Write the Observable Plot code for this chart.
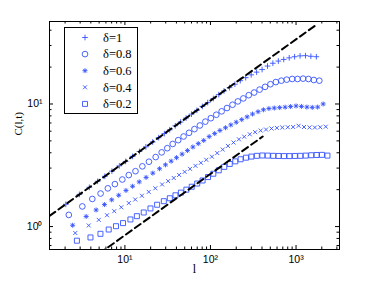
<!DOCTYPE html>
<html><head><meta charset="utf-8">
<script src="https://cdn.jsdelivr.net/npm/d3@7"></script>
<script src="https://cdn.jsdelivr.net/npm/@observablehq/plot@0.6"></script>
<style>
body{margin:0;background:#fff;}
#wrap{position:relative;width:374px;height:281px;}
</style></head><body><div id="wrap"></div>
<script>
// ---- data ----
const seriesLabels = ["δ=1","δ=0.8","δ=0.6","δ=0.4","δ=0.2"];

const l_d10 = [2.04,2.94,3.84,4.80,5.83,7.05,8.61,10.2,12.3,14.8,17.6,21.1,24.8,28.9,33.4,38.8,44.8,51.9,60.0,69.4,80.4,92.9,108,125,144,167,193,223,258,299,346,401,464,536,621,718,832,962,1115,1289,1490,1727];
const C_d10 = [1.52,1.83,2.09,2.34,2.57,2.83,3.13,3.40,3.74,4.10,4.47,4.90,5.31,5.73,6.16,6.64,7.13,7.68,8.26,8.88,9.56,10.27,11.08,11.92,12.79,13.6,14.5,15.5,16.4,17.3,18.2,19.1,20.4,21.5,22.4,23.1,23.8,24.3,24.7,24.8,24.5,24.3];

const l_d08 = [2.21,3.18,4.16,5.20,6.32,7.64,9.33,11.1,13.3,16.0,19.1,22.9,26.9,31.3,36.2,42.0,48.5,56.2,65.0,75.2,87.1,101,117,135,156,181,209,242,280,324,375,435,502,581,673,778,902,1042,1208,1396,1614,1871];
const C_d08 = [1.245,1.46,1.68,1.86,2.05,2.22,2.42,2.63,2.83,3.10,3.38,3.69,4.03,4.36,4.72,5.07,5.43,5.82,6.24,6.68,7.18,7.66,8.17,8.71,9.27,9.86,10.5,11.1,11.8,12.4,13.1,13.8,14.5,15.1,15.5,15.8,16.0,16.0,16.1,16.0,15.7,15.5];

const l_d06 = [2.45,3.53,4.61,5.77,7.01,8.47,10.3,12.3,14.7,17.7,21.2,25.4,29.8,34.7,40.1,46.6,53.8,62.3,72.1,83.4,96.6,112,129,150,173,200,232,268,310,360,416,482,557,644,746,863,1000,1156,1340,1548,1790,2075];
const C_d06 = [1.025,1.209,1.366,1.512,1.652,1.800,1.971,2.132,2.316,2.518,2.729,2.964,3.189,3.418,3.648,3.90,4.17,4.46,4.75,5.04,5.42,5.74,6.08,6.40,6.75,7.10,7.46,7.85,8.28,8.65,8.97,9.18,9.27,9.35,9.42,9.53,9.64,9.55,9.44,9.38,9.44,10.0];

const l_d04 = [2.63,3.78,4.95,6.18,7.51,9.08,11.1,13.2,15.8,19.0,22.7,27.2,32.0,37.2,43.0,49.9,57.7,66.8,77.3,89.4,104,120,139,160,186,215,248,288,333,386,446,517,597,691,800,925,1072,1239,1436,1660,1919,2225];
const C_d04 = [0.886,1.021,1.134,1.237,1.335,1.437,1.554,1.663,1.784,1.918,2.054,2.206,2.349,2.492,2.637,2.793,2.956,3.130,3.313,3.506,3.715,3.98,4.25,4.55,4.85,5.15,5.41,5.66,5.89,6.07,6.19,6.31,6.38,6.43,6.46,6.49,6.64,6.49,6.44,6.43,6.46,6.53];

const l_d02 = [2.75,3.96,5.18,6.47,7.87,9.51,11.6,13.8,16.6,19.9,23.8,28.5,33.5,39.0,45.1,52.3,60.4,70.0,80.9,93.6,108,125,145,168,195,225,260,301,348,404,467,541,625,723,838,969,1122,1297,1504,1738,2009,2329];
const C_d02 = [0.767,0.815,0.873,0.946,1.007,1.067,1.143,1.216,1.303,1.406,1.507,1.611,1.702,1.799,1.892,2.0,2.113,2.244,2.377,2.535,2.698,2.877,3.069,3.243,3.404,3.540,3.648,3.724,3.776,3.802,3.793,3.776,3.767,3.758,3.758,3.767,3.776,3.793,3.819,3.837,3.846,3.793];

// reference dashed lines (end points)
const refUpper_l = [1.315, 1667];
const refUpper_C = [1.222, 43.5];
const refLower_l = [5.0, 408];
const refLower_C = [0.601, 5.43];

// axis ticks
const xMajor = [10, 100, 1000];
const xMinor = [2,3,4,5,6,7,8,9,20,30,40,50,60,70,80,90,200,300,400,500,600,700,800,900,2000,3000];
const yMajor = [1, 10];
const yMinor = [0.7,0.8,0.9,2,3,4,5,6,7,8,9,20,30,40];

// ---- layout ----
const W = 374, H = 281, mL = 49, mR = 35, mT = 21, mB = 32;
const xDomain = [1.315, 3220], yDomain = [0.65, 47.1];
const fw = W - mL - mR, fh = H - mT - mB;
const kx = p => Math.pow(xDomain[1] / xDomain[0], p / fw);
const ky = p => Math.pow(yDomain[1] / yDomain[0], p / fh);
const BLUE = "#3552ff";
const sup = {"0":"\u2070","1":"\u00b9","2":"\u00b2","3":"\u00b3"};
const fmt = d => "10" + sup[String(Math.round(Math.log10(d)))];

const rows = (ls, cs) => ls.map((v, i) => ({l: v, C: cs[i]}));
const series = [
  {data: rows(l_d10, C_d10), syms: [["plus", 1.97]]},
  {data: rows(l_d08, C_d08), syms: [["circle", 2.85]]},
  {data: rows(l_d06, C_d06), syms: [["plus", 1.74], ["times", 1.8]]},
  {data: rows(l_d04, C_d04), syms: [["times", 1.96]]},
  {data: rows(l_d02, C_d02), syms: [["square", 2.82]]}
];

function ticks(vals, len, axis) {
  if (axis === "x") return [
    Plot.ruleX(vals, {x: d => d, y1: yDomain[0], y2: yDomain[0] * ky(len), stroke: "black", strokeWidth: 1}),
    Plot.ruleX(vals, {x: d => d, y1: yDomain[1], y2: yDomain[1] / ky(len), stroke: "black", strokeWidth: 1})
  ];
  return [
    Plot.ruleY(vals, {y: d => d, x1: xDomain[0], x2: xDomain[0] * kx(len), stroke: "black", strokeWidth: 1}),
    Plot.ruleY(vals, {y: d => d, x1: xDomain[1], x2: xDomain[1] / kx(len), stroke: "black", strokeWidth: 1})
  ];
}

const marks = [];
series.forEach(s => s.syms.forEach(([sym, r]) => {
  marks.push(Plot.dot(s.data, {x: "l", y: "C", symbol: sym, r, stroke: BLUE, fill: "none", strokeWidth: 0.9}));
}));
marks.push(
  Plot.line(refUpper_l.map((v, i) => ({l: v, C: refUpper_C[i]})), {x: "l", y: "C", stroke: "black", strokeWidth: 2, strokeDasharray: "7,4", clip: true}),
  Plot.line(refLower_l.map((v, i) => ({l: v, C: refLower_C[i]})), {x: "l", y: "C", stroke: "black", strokeWidth: 2, strokeDasharray: "7,4", clip: true}),
  ...ticks(xMajor, 4, "x"), ...ticks(xMinor, 2.5, "x"),
  ...ticks(yMajor, 4, "y"), ...ticks(yMinor, 2.5, "y"),
  Plot.frame({stroke: "black", strokeWidth: 1}),
  Plot.text(["l"], {text: d => d, frameAnchor: "bottom", dy: 23, fontFamily: "Liberation Serif", fontSize: 12, fill: "black"}),
  Plot.text(["C(l,t)"], {text: d => d, frameAnchor: "left", dx: -31, rotate: -90, fontFamily: "Liberation Serif", fontSize: 11, fill: "black"})
);

const chart = Plot.plot({
  width: W, height: H,
  marginLeft: mL, marginRight: mR, marginTop: mT, marginBottom: mB,
  style: {fontFamily: "Liberation Sans, Arial, sans-serif", fontSize: "10.5px", background: "white", color: "black"},
  x: {type: "log", domain: xDomain, ticks: xMajor, tickFormat: fmt, tickSize: 0, tickPadding: 6, label: null},
  y: {type: "log", domain: yDomain, ticks: yMajor, tickFormat: fmt, tickSize: 0, tickPadding: 7, label: null},
  marks
});
const wrap = document.getElementById("wrap");
wrap.appendChild(chart);

// ---- legend (inside the axes, upper left) ----
const leg = d3.create("svg").attr("width", 75).attr("height", 88)
  .style("position", "absolute").style("left", "64px").style("top", "27px");
leg.append("rect").attr("x", 0.5).attr("y", 0.5).attr("width", 73).attr("height", 86)
  .attr("fill", "white").attr("stroke", "black").attr("stroke-width", 1);
const symMap = {plus: d3.symbolPlus, times: d3.symbolTimes, circle: d3.symbolCircle, square: d3.symbolSquare};
series.forEach((s, i) => {
  const cy = 10.5 + i * 16.6;
  s.syms.forEach(([sym, r]) => {
    leg.append("path").attr("d", d3.symbol(symMap[sym], Math.PI * r * r)())
      .attr("transform", `translate(21,${cy})`).attr("fill", "none").attr("stroke", BLUE).attr("stroke-width", 0.9);
  });
  leg.append("text").attr("x", 39).attr("y", cy).attr("dy", "0.35em")
    .attr("font-family", "Liberation Serif").attr("font-size", 12.5).attr("fill", "black").text(seriesLabels[i]);
});
wrap.appendChild(leg.node());
</script>
</body></html>
